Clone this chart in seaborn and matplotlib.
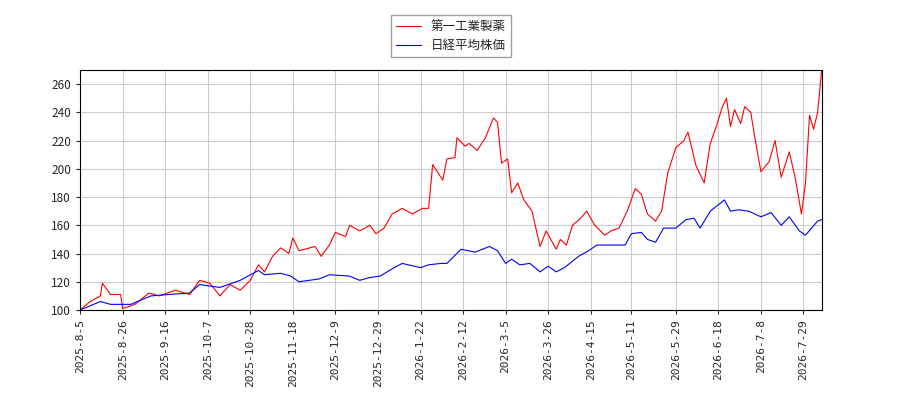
import matplotlib
matplotlib.use("Agg")
import matplotlib.pyplot as plt
import seaborn as sns
import pandas as pd
import numpy as np

start = pd.Timestamp("2025-08-05")
red_px = [80,90,100,103,110,120,123,135,148,160,175,190,200,210,220,230,240,250,258,265,272,280,288,293,300,315,322,330,336,345,350,360,370,376,385,393,403,412,422,428,433,443,447,455,458,465,470,478,485,490,494,498,502,507,512,518,525,532,540,546,556,560,566,572,580,588,595,605,612,620,628,636,642,648,655,662,668,676,684,688,692,696,705,710,716,722,726,730,736,742,746,752,756,762,770,776,782,790,796,802,806,810,814,818,822]
red_vals = [100,106,110,119,111,111,101,104,112,110,114,111,121,119,110,118,114,121,132,127,138,144,140,151,142,145,138,146,155,152,160,156,160,154,158,168,172,168,172,172,203,192,207,208,222,216,218,213,222,229,236,233,204,207,183,190,178,170,145,156,143,150,146,160,165,170,160,153,156,158,170,186,182,168,163,170,197,215,220,226,214,202,190,218,230,244,250,230,242,232,244,240,222,198,205,220,194,212,193,168,190,238,228,240,270]
blue_px = [80,100,110,130,150,170,190,200,220,240,258,265,280,290,300,310,320,330,350,360,370,380,395,403,420,428,440,448,462,475,490,498,505,512,520,530,540,548,556,565,578,590,598,612,625,632,642,648,656,665,676,686,694,700,710,725,732,740,750,762,772,782,790,800,806,812,818,822]
blue_vals = [100,106,104,104,110,111,112,118,116,121,128,125,126,124,120,121,122,125,124,121,123,124,130,133,130,132,133,133,143,141,145,142,133,136,132,133,127,131,127,130,138,142,146,146,146,154,155,150,148,158,158,164,165,158,170,178,170,171,170,166,169,160,166,156,153,158,163,164]
tick_labels = ["2025-8-5","2025-8-26","2025-9-16","2025-10-7","2025-10-28","2025-11-18","2025-12-9","2025-12-29","2026-1-22","2026-2-12","2026-3-5","2026-3-26","2026-4-15","2026-5-11","2026-5-29","2026-6-18","2026-7-8","2026-7-29"]
tick_px = [80,123,165,208,251,293,336,378,421,463,506,548,592,632,677,719,762,805]

def to_dates(px):
    return [start + pd.Timedelta(days=round((p - 80) / 2.028)) for p in px]

df_r = pd.DataFrame({"date": to_dates(red_px), "v": red_vals})
df_b = pd.DataFrame({"date": to_dates(blue_px), "v": blue_vals})

sns.set_style("white")
plt.rcParams['font.family'] = ['Noto Sans CJK JP', 'DejaVu Sans']
fig = plt.figure(figsize=(9, 4), dpi=100)
ax = fig.add_axes([0.089, 0.225, 0.824, 0.6])
sns.lineplot(data=df_r, x="date", y="v", color="red", lw=0.8, ax=ax, label="第一工業製薬")
sns.lineplot(data=df_b, x="date", y="v", color="blue", lw=0.8, ax=ax, label="日経平均株価")
ax.set_xlim(start, start + pd.Timedelta(days=366))
ax.set_ylim(100, 270)
ax.set_yticks(range(100, 261, 20))
ax.set_xticks(to_dates(tick_px))
ax.set_xticklabels(tick_labels, rotation=90, family='DejaVu Sans Mono', fontsize=8)
ax.tick_params(axis='y', labelsize=8.5)
ax.tick_params(direction='out', length=3, left=True, bottom=True)
ax.grid(True, color='#cccccc', lw=0.8)
for s in ax.spines.values():
    s.set_color('black'); s.set_linewidth(0.8)
ax.set_xlabel(""); ax.set_ylabel("")
ax.legend(loc='upper center', bbox_to_anchor=(0.5, 1.255), fontsize=9, frameon=True, fancybox=False, edgecolor='#888888')
fig.savefig("out.png")
